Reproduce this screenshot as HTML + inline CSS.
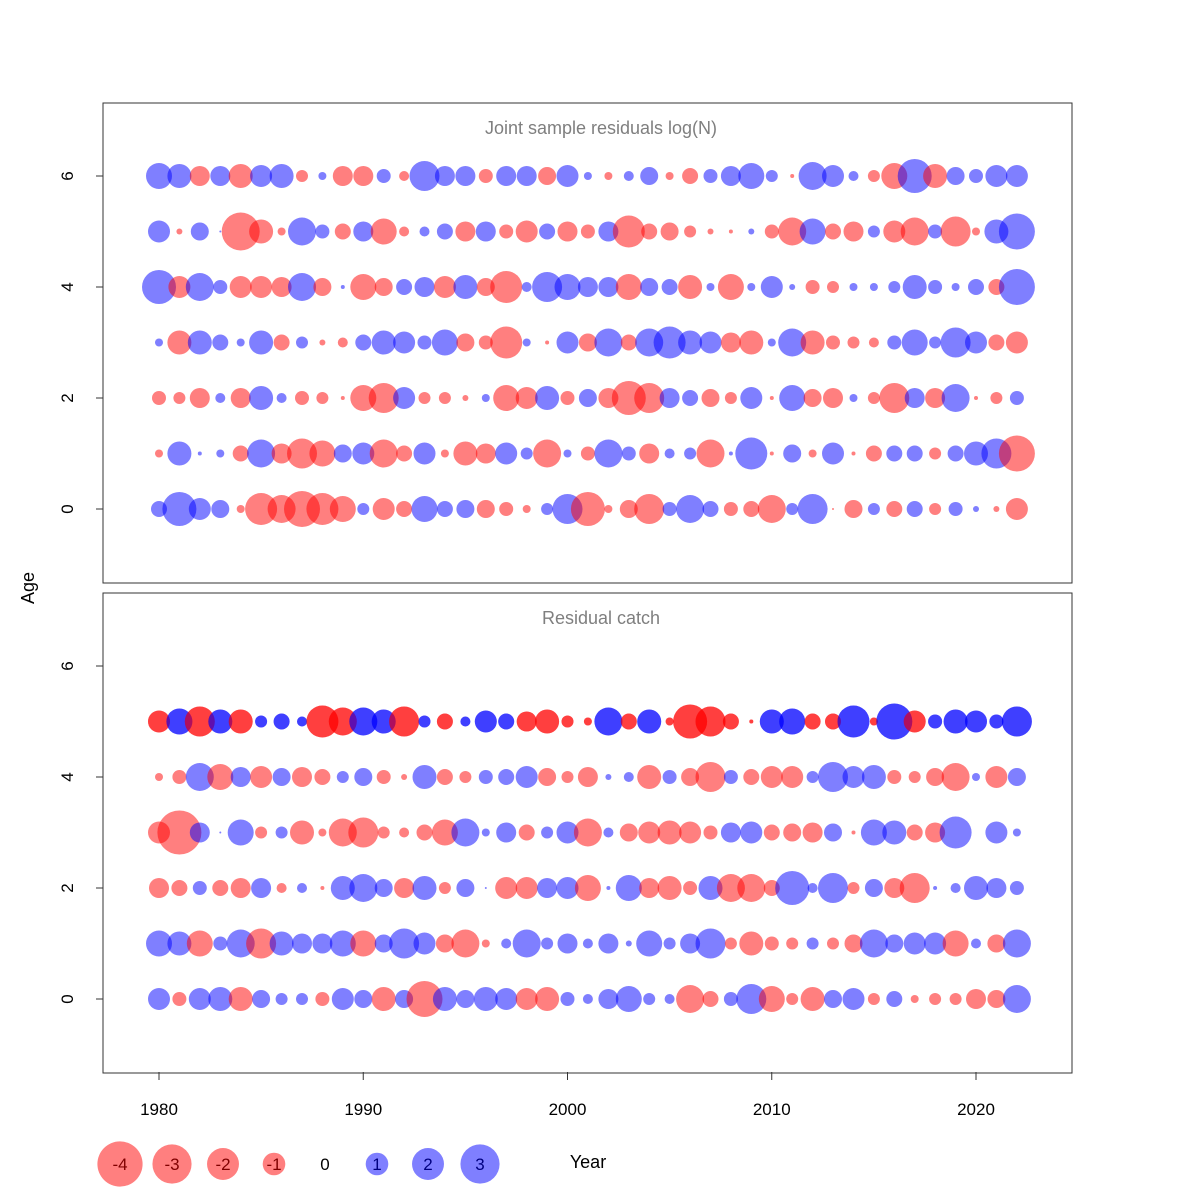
<!DOCTYPE html>
<html><head><meta charset="utf-8"><style>
body{margin:0;background:#fff}
svg{display:block;font-family:"Liberation Sans",sans-serif}
</style></head><body>
<svg id="s" width="1200" height="1200" xmlns="http://www.w3.org/2000/svg"></svg>
<script>
const top6=[
"b13 b12 r10 b10 r12 b11 b12 r6 b4 r10 r10 b7 r5 b15 b10 b10 r7 b10 b10 r9 b11 b4 r4 b5 b9 r4 r8 b7 b10 b13 b6 r2 b14 b11 b5 r6 r13 b17 r12 b9 b7 b11 b11",
"b11 r3 b9 b1 r19 r12 r4 b14 b7 r8 b10 r13 r5 b5 b8 r10 b10 r7 r11 b8 r10 r7 b10 r16 r8 r9 r6 r3 r2 b3 r7 r14 b13 r8 r10 b6 r11 r14 b7 r15 r4 b12 b18",
"b17 r11 b14 b7 r11 r11 r10 b14 r9 b2 r13 r9 b8 b10 r11 b12 r9 r16 b5 b15 b13 b10 b10 r13 b9 b8 r12 b4 r13 b4 b11 b3 r7 r6 b4 b4 b6 b12 b7 b4 b8 r8 b18",
"b4 r12 b12 b8 b4 b12 r8 b6 r3 r5 b8 b12 b11 b7 b13 r9 r7 r16 b4 r2 b11 r9 b14 r8 b14 b16 b12 b11 r10 r12 b4 b14 r12 r7 r6 r5 b7 b13 b6 b15 b11 r8 r11",
"r7 r6 r10 b5 r10 b12 b5 r7 r6 r2 r13 r15 b11 r6 r6 r3 b4 r13 r11 b12 r7 b9 r10 r17 r15 b10 b8 r9 r6 b11 r2 b13 r9 r10 b4 r6 r15 b10 r10 b14 r2 r6 b7",
"r4 b12 b2 b4 r8 b14 r10 r15 r13 b9 b11 r14 r8 b11 r4 r12 r10 b11 b6 r14 b4 r7 b14 b7 r10 b5 b6 r14 b2 b16 r2 b9 r4 b11 r2 r8 b8 b8 r6 b8 b12 b15 r18",
"b8 b17 b11 b9 r4 r16 r14 r18 r16 r13 b6 r11 r8 b13 b8 b9 r9 r7 r4 b6 b15 r17 r4 r9 r15 b7 b14 b8 r7 r8 r14 b6 b15 r1 r9 b6 r8 b8 r6 b7 b3 r3 r11"];
const bot=[
"r11 b13 r15 b12 r12 b6 b8 b5 r16 r14 b14 b12 r15 b6 r8 b5 b11 b8 r10 r12 r6 r4 b14 r8 b12 r4 r17 r15 r8 r2 b12 b13 r8 r8 b16 r4 b18 r11 b7 b12 b11 b7 b15",
"r4 r7 b14 r13 b10 r11 b9 r10 r8 b6 b9 r7 r3 b12 r8 r6 b7 b8 b11 r9 r6 r10 b3 b5 r12 b7 r9 r15 b7 r8 r11 r11 b6 b15 b11 b12 r7 r6 r9 r14 b4 r11 b9",
"r11 r22 b10 b1 b13 r6 b6 r12 r4 r14 r15 r6 r5 r8 r13 b14 b4 b10 r8 b6 b11 r14 b5 r9 r11 r12 r11 r7 b10 b11 r8 r9 r10 b9 r2 b13 b12 r8 r10 b16 r0 b11 b4",
"r10 r8 b7 r8 r10 b10 r5 b5 r2 b12 b14 b9 r10 b12 r6 b9 b1 r11 r11 b10 b11 r13 b2 b13 r10 r12 r7 b12 r14 r14 r8 b17 b5 b15 r6 b9 r10 r15 b2 b5 b12 b10 b7",
"b13 b12 r13 b7 b14 r15 b12 b10 b10 b13 r13 b9 b15 b11 r9 r14 r4 b5 b14 b6 b10 b5 b10 b3 b13 b6 b10 b15 r6 r12 r7 r6 b6 r6 r9 b14 b9 b11 b11 r13 b5 r9 b14",
"b11 r7 b11 b12 r12 b9 b6 b6 r7 b11 b9 r12 b9 r18 b12 b9 b12 b11 r11 r12 b7 b5 b10 b13 b6 b5 r14 r8 b7 b15 r13 r6 r12 b9 b11 r6 b8 r4 r6 r6 r10 r9 b14"];
const X=y=>159+(y-1980)*20.425;
let h='';
function panel(y0,title){
 h+=`<rect x="103" y="${y0}" width="969" height="480" fill="none" stroke="#333" stroke-width="1"/>`;
 h+=`<text x="601" y="${y0+31}" text-anchor="middle" font-size="18" fill="#7f7f7f">${title}</text>`;
 for(let a=0;a<=6;a+=2){const yy=y0+406-a*55.5;
  h+=`<line x1="96" y1="${yy}" x2="103" y2="${yy}" stroke="#333"/>`;
  h+=`<text transform="translate(73,${yy}) rotate(-90)" text-anchor="middle" font-size="17">${a}</text>`;}
}
function row(s,y0,age,op){
 const yy=y0+406-age*55.5;
 s.split(' ').forEach((t,j)=>{const r=+t.slice(1);if(r<=0)return;
   const c=t[0]=='b'?'0,0,255':'255,0,0';
   h+=`<circle cx="${X(1980+j).toFixed(1)}" cy="${yy.toFixed(1)}" r="${r}" fill="rgba(${c},${op})"/>`;});
}
panel(103,'Joint sample residuals log(N)');
panel(593,'Residual catch');
top6.forEach((s,i)=>row(s,103,6-i,0.5));
row(bot[0],593,5,0.5);row(bot[0],593,5,0.5);
bot.slice(1).forEach((s,i)=>row(s,593,4-i,0.5));
h+=`<text transform="translate(34,588) rotate(-90)" text-anchor="middle" font-size="18">Age</text>`;
for(let y=1980;y<=2020;y+=10){h+=`<line x1="${X(y)}" y1="1072" x2="${X(y)}" y2="1080" stroke="#333"/><text x="${X(y)}" y="1115" text-anchor="middle" font-size="17">${y}</text>`;}
const L=[[120,-4],[172,-3],[223,-2],[274,-1],[325,0],[377,1],[428,2],[480,3]];
L.forEach(([x,v])=>{const r=11.3*Math.sqrt(Math.abs(v));if(v)h+=`<circle cx="${x}" cy="1164" r="${r}" fill="${v<0?'rgba(255,0,0,0.5)':'rgba(0,0,255,0.5)'}"/>`;
 h+=`<text x="${x}" y="1170" text-anchor="middle" font-size="17" fill="${v<0?'#800000':v>0?'#000080':'#000'}">${v}</text>`;});
h+=`<text x="588" y="1168" text-anchor="middle" font-size="18">Year</text>`;
document.getElementById('s').innerHTML=h;
</script>
</body></html>
